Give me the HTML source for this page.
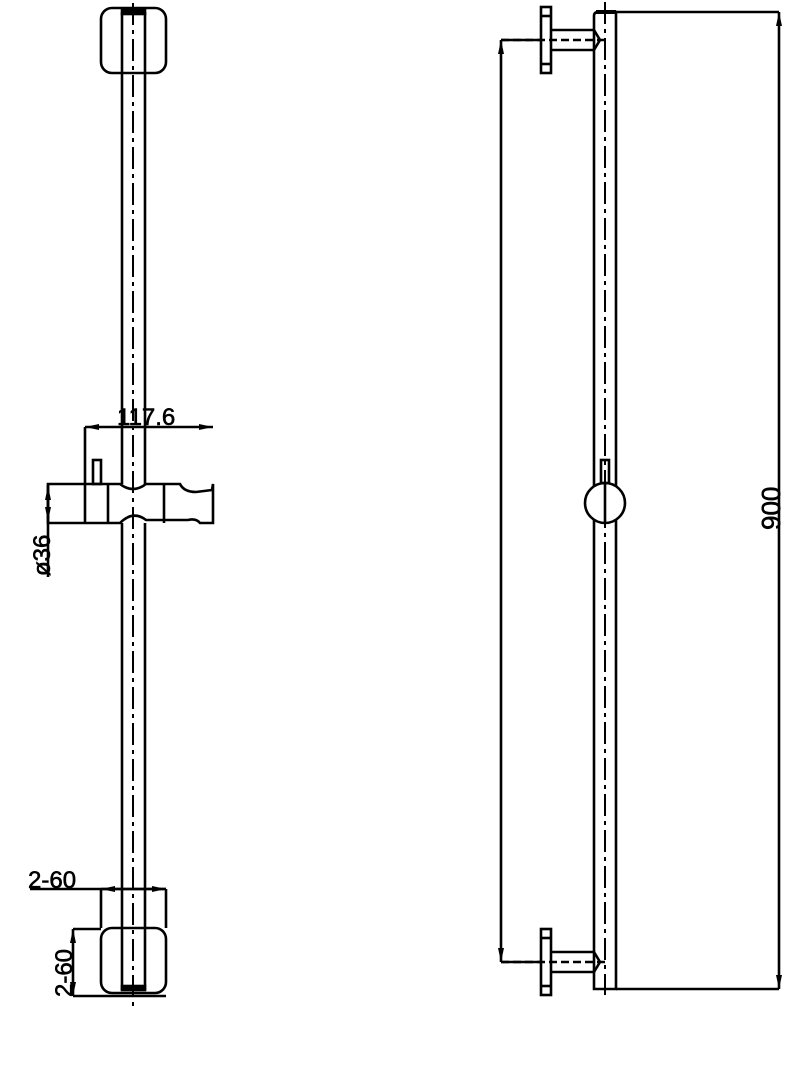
<!DOCTYPE html>
<html><head><meta charset="utf-8"><style>html,body{margin:0;padding:0;background:#fff}svg{display:block}</style></head>
<body>
<svg width="806" height="1080" viewBox="0 0 806 1080" xmlns="http://www.w3.org/2000/svg" font-family="Liberation Sans, sans-serif">
<defs>
<marker id="a" viewBox="0 0 14 6" refX="14" refY="3" markerWidth="14" markerHeight="6" orient="auto-start-reverse" markerUnits="userSpaceOnUse"><path d="M0,0 L14,3 L0,6 z" fill="#000"/></marker>
</defs>
<g stroke="#000" fill="none" stroke-width="2.6">
<!-- LEFT VIEW -->
<rect x="101" y="8" width="65" height="65" rx="11"/>
<rect x="101" y="928" width="65" height="65" rx="11"/>
<line x1="122" y1="12" x2="122" y2="484"/><line x1="145" y1="12" x2="145" y2="484"/>
<line x1="122" y1="523" x2="122" y2="990"/><line x1="145" y1="523" x2="145" y2="990"/>
<rect x="122" y="9" width="23" height="5" fill="#000"/>
<rect x="122" y="986" width="23" height="4" fill="#000"/>
<line x1="133" y1="3" x2="133" y2="1008" stroke-width="2" stroke-dasharray="22,5,4,5"/>
<!-- slider -->
<path d="M48,484 H120 Q133,494 146,484 H180 Q184,492 196,492 L212,490 L213,484 V523 H200 Q196,518 188,520 H146 Q133,510 120,523 H48 Z"/>
<line x1="85" y1="484" x2="85" y2="523"/>
<line x1="108" y1="484" x2="108" y2="523"/>
<line x1="164" y1="484" x2="164" y2="523"/>
<rect x="93" y="460" width="8" height="24"/>
<!-- 117.6 -->
<line x1="85" y1="427" x2="85" y2="484"/>
<line x1="85" y1="427" x2="213" y2="427" marker-start="url(#a)" marker-end="url(#a)"/>
<!-- ø36 -->
<line x1="48" y1="484" x2="48" y2="577"/>
<line x1="48" y1="486" x2="48" y2="521" marker-start="url(#a)" marker-end="url(#a)"/>
<!-- 2-60 horiz -->
<line x1="30" y1="889" x2="166" y2="889"/>
<line x1="101" y1="889" x2="101" y2="928"/><line x1="166" y1="889" x2="166" y2="928"/>
<line x1="101" y1="889" x2="166" y2="889" marker-start="url(#a)" marker-end="url(#a)"/>
<!-- 2-60 vert -->
<line x1="73" y1="929" x2="101" y2="929"/>
<line x1="73" y1="996" x2="166" y2="996"/>
<line x1="73" y1="929" x2="73" y2="996" marker-start="url(#a)" marker-end="url(#a)"/>

<!-- RIGHT VIEW -->
<path d="M594,989 V16 Q594,12 598,12 H616 V989 Z"/>
<rect x="596" y="10" width="20" height="4" fill="#000" stroke="none"/>
<line x1="605" y1="2" x2="605" y2="995" stroke-width="2" stroke-dasharray="22,5,4,5"/>
<!-- top bracket -->
<rect x="541" y="7" width="10" height="66"/>
<line x1="541" y1="16" x2="551" y2="16"/><line x1="541" y1="64" x2="551" y2="64"/>
<path d="M551,30 H594 L600,40 L594,50 H551"/>
<line x1="501" y1="40" x2="605" y2="40" stroke-dasharray="8,4"/>
<line x1="501" y1="40" x2="541" y2="40"/>
<!-- bottom bracket -->
<rect x="541" y="929" width="10" height="66"/>
<line x1="541" y1="938" x2="551" y2="938"/><line x1="541" y1="986" x2="551" y2="986"/>
<path d="M551,952 H594 L600,962 L594,972 H551"/>
<line x1="501" y1="962" x2="605" y2="962" stroke-dasharray="8,4"/>
<line x1="501" y1="962" x2="541" y2="962"/>
<line x1="501" y1="40" x2="501" y2="962" marker-start="url(#a)" marker-end="url(#a)"/>
<!-- ball -->
<circle cx="605" cy="503" r="20" fill="#fff"/>
<line x1="605" y1="483" x2="605" y2="523"/>
<rect x="601" y="460" width="8" height="23"/>
<!-- 900 -->
<line x1="616" y1="12" x2="779" y2="12"/>
<line x1="616" y1="989" x2="779" y2="989"/>
<line x1="779" y1="12" x2="779" y2="989" marker-start="url(#a)" marker-end="url(#a)"/>
</g>
<g fill="#000" font-size="24" stroke="#000" stroke-width="0.6">
<text x="117" y="425">117.6</text>
<text x="28" y="888">2-60</text>
<text transform="translate(50,576) rotate(-90)">ø36</text>
<text transform="translate(72,997) rotate(-90)">2-60</text>
<text transform="translate(780,530) rotate(-90)" font-size="26">900</text>
</g>
</svg>
</body></html>
